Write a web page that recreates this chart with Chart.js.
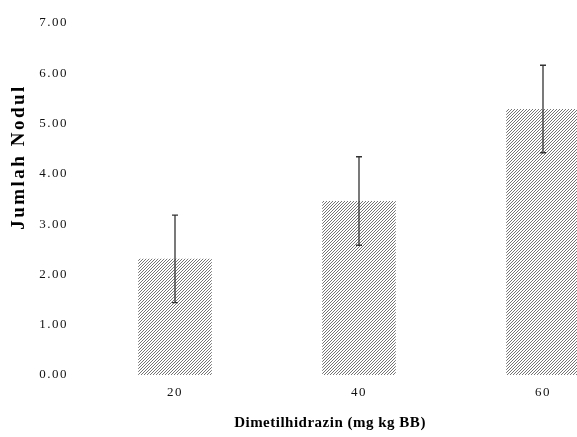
<!DOCTYPE html>
<html>
<head>
<meta charset="utf-8">
<script src="https://cdn.jsdelivr.net/npm/chart.js@4.4.0/dist/chart.umd.min.js"></script>
<style>
  html, body { margin: 0; padding: 0; background: #fff; overflow: hidden; }
  #wrap { width: 577px; height: 437px; overflow: hidden; }
</style>
</head>
<body>
<div id="wrap"><canvas id="chart" width="640" height="437"></canvas></div>
<script>
const doses = ['20', '40', '60'];
const meanNodul = [2.31, 3.46, 5.29];
const sdNodul = [0.87, 0.88, 0.87];
const yTitle = 'Jumlah Nodul';
const xTitle = 'Dimetilhidrazin (mg kg BB)';

// hatch fill like the original excel chart
function makeHatch() {
    const c = document.createElement('canvas');
    c.width = 3;
    c.height = 3;
    const g = c.getContext('2d');
    g.fillStyle = '#fff';
    g.fillRect(0, 0, 3, 3);
    g.strokeStyle = '#747474';
    g.lineWidth = 1;
    g.beginPath();
    g.moveTo(0, 3); g.lineTo(3, 0);
    g.moveTo(-1, 1); g.lineTo(1, -1);
    g.moveTo(2, 4); g.lineTo(4, 2);
    g.stroke();
    return g.createPattern(c, 'repeat');
}

// the old excel output has wide letter spacing
const spacing = {
    id: 'spacing',
    beforeUpdate(chart) { chart.ctx.letterSpacing = '1.5px'; },
    beforeDraw(chart) { chart.ctx.letterSpacing = '1.5px'; }
};

const errorBars = {
    id: 'errorBars',
    afterDatasetsDraw(chart) {
        const ctx = chart.ctx;
        const meta = chart.getDatasetMeta(0);
        const y = chart.scales.y;
        ctx.save();
        ctx.strokeStyle = '#333';
        ctx.lineWidth = 1.3;
        meta.data.forEach((bar, i) => {
            const top = y.getPixelForValue(meanNodul[i] + sdNodul[i]);
            const bot = y.getPixelForValue(meanNodul[i] - sdNodul[i]);
            const x = bar.x;
            ctx.beginPath();
            ctx.moveTo(x, top); ctx.lineTo(x, bot);
            ctx.moveTo(x - 3, top); ctx.lineTo(x + 3, top);
            ctx.moveTo(x - 3, bot); ctx.lineTo(x + 3, bot);
            ctx.stroke();
        });
        ctx.restore();
    }
};

const titles = {
    id: 'titles',
    afterDraw(chart) {
        const ctx = chart.ctx;
        ctx.save();
        ctx.fillStyle = '#000';
        ctx.textAlign = 'center';
        ctx.textBaseline = 'middle';
        ctx.font = 'bold 15px "Liberation Serif"';
        ctx.letterSpacing = '0.5px';
        ctx.fillText(xTitle, 330, 423);
        ctx.font = 'bold 19px "Liberation Serif"';
        ctx.letterSpacing = '2.5px';
        ctx.translate(19, 157);
        ctx.rotate(-Math.PI / 2);
        ctx.fillText(yTitle, 0, 0);
        ctx.restore();
    }
};

new Chart(document.getElementById('chart'), {
    type: 'bar',
    data: {
        labels: doses,
        datasets: [{
            data: meanNodul,
            backgroundColor: makeHatch(),
            borderWidth: 0,
            barPercentage: 0.4,
            categoryPercentage: 1
        }]
    },
    options: {
        responsive: false,
        animation: false,
        layout: { padding: { top: 23, right: 5, left: 0, bottom: 0 } },
        plugins: { legend: { display: false }, tooltip: { enabled: false } },
        scales: {
            x: {
                grid: { display: false, drawTicks: false },
                border: { display: false },
                ticks: { color: '#111', font: { family: 'Liberation Serif', size: 13 }, padding: 10 },
                afterFit: s => { s.height = 62; }
            },
            y: {
                min: 0,
                max: 7,
                grid: { display: false, drawTicks: false },
                border: { display: false },
                ticks: {
                    stepSize: 1,
                    color: '#111',
                    font: { family: 'Liberation Serif', size: 13 },
                    padding: 15,
                    callback: v => v.toFixed(2)
                },
                afterFit: s => { s.width = 83; }
            }
        }
    },
    plugins: [spacing, errorBars, titles]
});
</script>
</body>
</html>
